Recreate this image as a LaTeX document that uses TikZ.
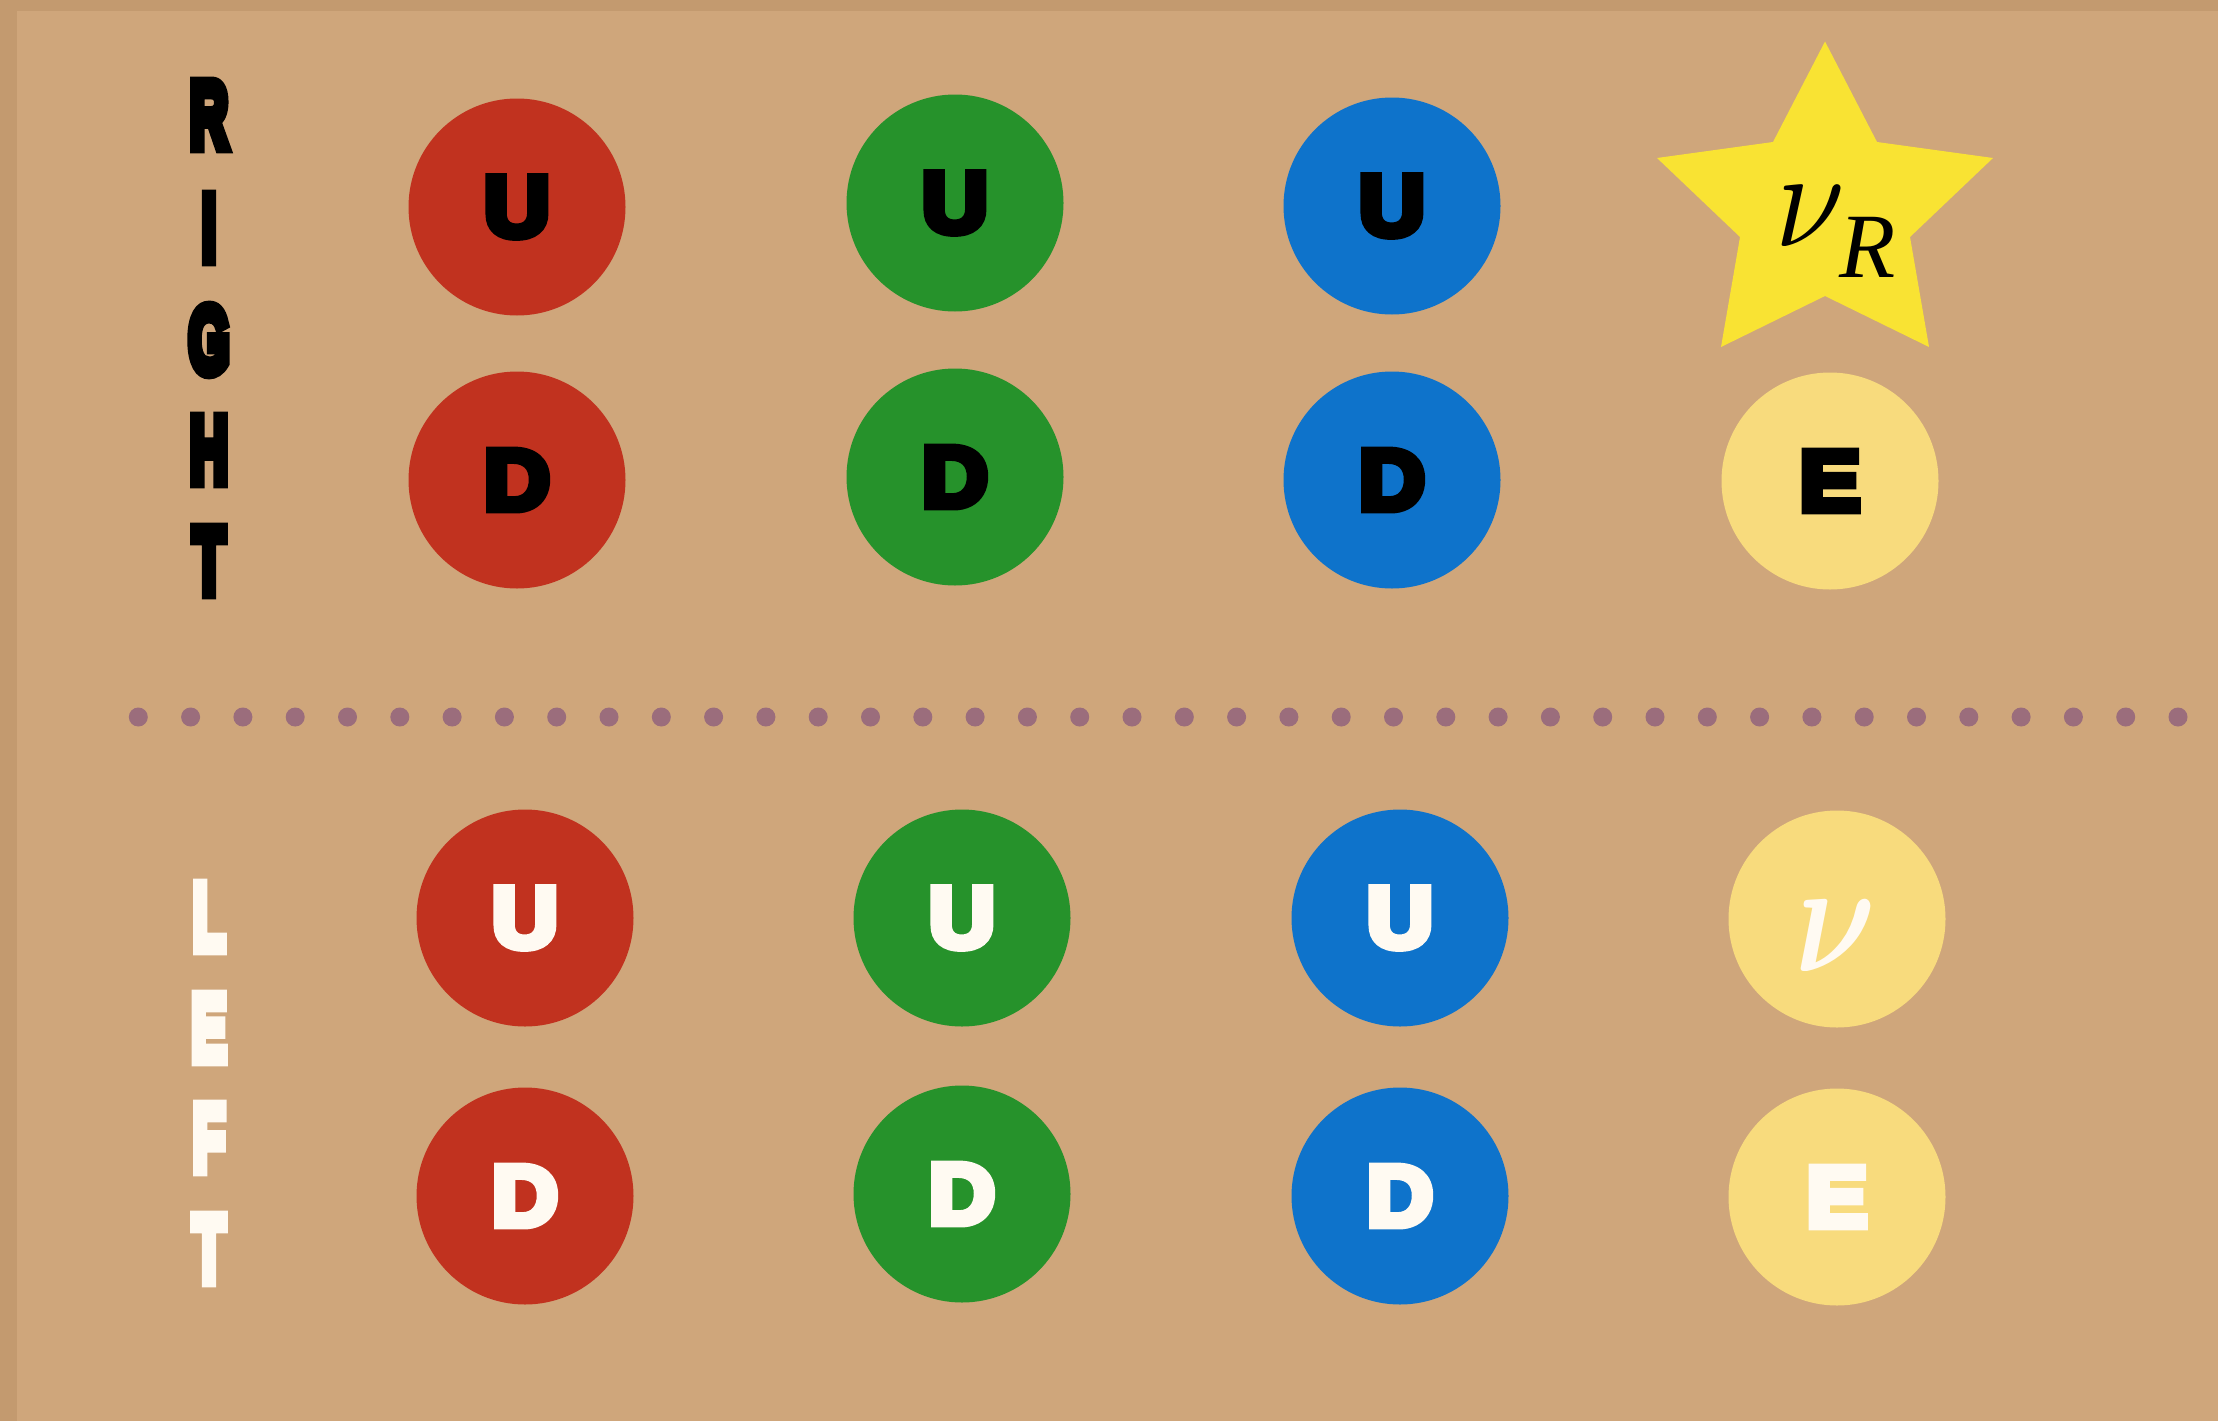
\documentclass[tikz,border=0pt]{standalone}
\usepackage{fontspec}
\usepackage{graphicx}
\usepackage{bm}
\newfontfamily\heavy{Liberation Sans}[FakeBold=9, BoldFeatures={FakeBold=9}]
\newfontfamily\sidefont{Liberation Sans}[FakeBold=13, BoldFeatures={FakeBold=13}]
\newfontfamily\subserif{Liberation Serif}
\definecolor{bordercol}{HTML}{C39A6F}
\definecolor{bgcol}{HTML}{CFA67B}
\definecolor{redq}{HTML}{C1321F}
\definecolor{greenq}{HTML}{26922B}
\definecolor{blueq}{HTML}{0E73CB}
\definecolor{palel}{HTML}{F8DB7D}
\definecolor{starcol}{HTML}{F9E333}
\definecolor{dotcol}{HTML}{9B6D7C}
\definecolor{whitetxt}{HTML}{FFFAF2}
\newcommand\widel[1]{\scalebox{1.06}[1]{#1}}
\newcommand\narrowl[1]{\scalebox{0.56}[1]{#1}}
\begin{document}
\begin{tikzpicture}[x=1pt,y=-1pt,
  particle/.style={circle, inner sep=0pt, minimum size=217pt,
    font=\heavy\bfseries\fontsize{86}{86}\selectfont},
  righttxt/.style={text=black},
  lefttxt/.style={text=whitetxt},
  sidelabel/.style={inner sep=0pt, font=\sidefont\bfseries\fontsize{94}{94}\selectfont}]
\useasboundingbox (0,0) rectangle (2218,1421);
\fill[bordercol] (0,0) rectangle (2218,1421);
\fill[bgcol] (17,11) rectangle (2218,1421);

% side labels
\foreach \ch/\yy [count=\k] in {R/115,I/228,G/340,H/450,T/561}
  \node[sidelabel, text=black] (rl\k) at (209,\yy) {\narrowl{\ch}};
\foreach \ch/\yy [count=\k] in {L/917,E/1028,F/1138,T/1249}
  \node[sidelabel, text=whitetxt] (ll\k) at (209,\yy) {\narrowl{\ch}};

% right-handed particles
\node[particle, fill=redq, righttxt] (ru1) at (517,207) {\widel{U}};
\node[particle, fill=greenq, righttxt] (ru2) at (955,203) {\widel{U}};
\node[particle, fill=blueq, righttxt] (ru3) at (1392,206) {\widel{U}};
\node[particle, fill=redq, righttxt] (rd1) at (517,480) {\widel{D}};
\node[particle, fill=greenq, righttxt] (rd2) at (955,477) {\widel{D}};
\node[particle, fill=blueq, righttxt] (rd3) at (1392,480) {\widel{D}};
\node[particle, fill=palel, righttxt] (re) at (1830,481) {\widel{E}};

% star with nu_R
\fill[starcol] (1825,41.5) -- (1877,142) -- (1993,158) -- (1910,237) -- (1929,347)
  -- (1825,296) -- (1721,347) -- (1740,237) -- (1657,158) -- (1773,142) -- cycle;
\node[inner sep=0pt] (nur) at (1810,216) {\scalebox{12.5}[14]{$\nu$}};
\node[inner sep=0pt, font=\subserif\itshape\fontsize{92}{92}\selectfont] (nursub) at (1868,247) {R};

% dotted separator
\foreach \i in {0,...,39}
  \fill[dotcol] ({138.3+52.3*\i},717) circle[radius=9.5pt];

% left-handed particles
\node[particle, fill=redq, lefttxt] (lu1) at (525,918) {\widel{U}};
\node[particle, fill=greenq, lefttxt] (lu2) at (962,918) {\widel{U}};
\node[particle, fill=blueq, lefttxt] (lu3) at (1400,918) {\widel{U}};
\node[particle, fill=redq, lefttxt] (ld1) at (525,1196) {\widel{D}};
\node[particle, fill=greenq, lefttxt] (ld2) at (962,1194) {\widel{D}};
\node[particle, fill=blueq, lefttxt] (ld3) at (1400,1196) {\widel{D}};
\node[particle, fill=palel] (lnu) at (1837,919) {};
\node[inner sep=0pt, text=whitetxt] (lnutxt) at (1836,936) {\scalebox{12.5}[16]{$\bm{\nu}$}};
\node[particle, fill=palel, lefttxt] (le) at (1837,1197) {\widel{E}};
\end{tikzpicture}
\end{document}
